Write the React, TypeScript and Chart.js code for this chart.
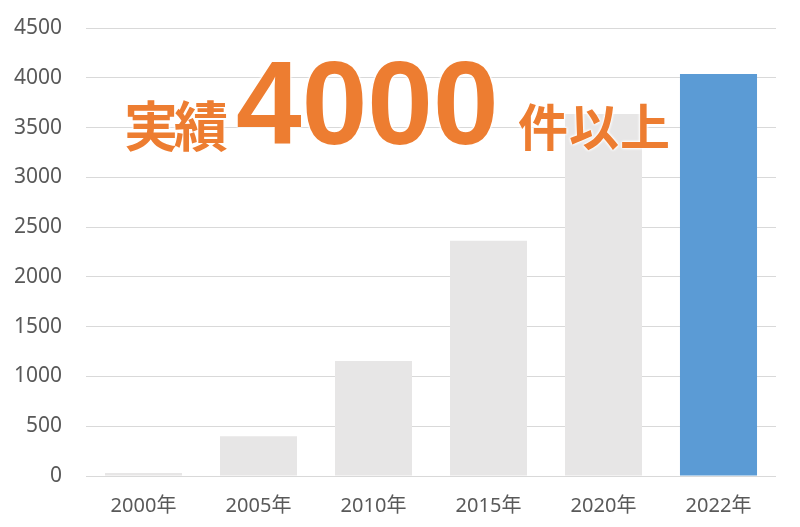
import { useEffect, useRef } from 'react';
import { Chart, registerables } from 'chart.js';

Chart.register(...registerables);

const years = ['2000年', '2005年', '2010年', '2015年', '2020年', '2022年'];
const counts = [30, 400, 1155, 2362, 3635, 4038];
const barColors = ['#E7E6E6', '#E7E6E6', '#E7E6E6', '#E7E6E6', '#E7E6E6', '#5B9BD5'];

const orange = '#ED7D31';
const halo = '0 0 3px #fff, 0 0 3px #fff, 0 0 3px #fff';

export default function App() {
  const canvas = useRef<HTMLCanvasElement | null>(null);
  const chartRef = useRef<Chart | null>(null);

  useEffect(() => {
    document.body.style.margin = '0';
    const node = canvas.current;
    if (!node) {
      return;
    }
    chartRef.current?.destroy();

    chartRef.current = new Chart(node, {
      type: 'bar',
      data: {
        labels: years,
        datasets: [
          {
            data: counts,
            backgroundColor: barColors,
            borderWidth: 0,
            barPercentage: 0.67,
            categoryPercentage: 1
          }
        ]
      },
      options: {
        responsive: false,
        animation: false,
        layout: { padding: { top: 28, right: 24, bottom: 0, left: 0 } },
        plugins: {
          legend: { display: false },
          tooltip: { enabled: false }
        },
        scales: {
          x: {
            grid: { display: false, drawTicks: false },
            border: { display: false },
            ticks: {
              color: '#595959',
              padding: 18,
              font: { family: "'Noto Sans', 'Noto Sans CJK JP', sans-serif", size: 20 }
            },
            afterFit: (scale: any) => {
              scale.height = 51;
            }
          },
          y: {
            min: 0,
            max: 4500,
            grid: { color: '#D9D9D9', lineWidth: 1, drawTicks: false },
            border: { display: false },
            ticks: {
              stepSize: 500,
              color: '#595959',
              padding: 24,
              font: { family: "'Noto Sans', sans-serif", size: 21 },
              callback: (value: any) => String(value)
            },
            afterFit: (scale: any) => {
              scale.width = 86;
              scale.paddingTop = 0;
              scale.paddingBottom = 0;
            }
          }
        }
      }
    });

    return () => {
      chartRef.current?.destroy();
      chartRef.current = null;
    };
  }, []);

  const cjk = "'Noto Sans CJK JP', sans-serif";

  return (
    <div style={{ position: 'relative', width: 800, height: 527, background: '#fff' }}>
      <canvas ref={canvas} width={800} height={527} aria-label="実績件数の推移" role="img" />
      <span
        style={{
          position: 'absolute',
          left: 124,
          top: 83,
          fontFamily: cjk,
          fontWeight: 700,
          fontSize: 54,
          lineHeight: 1.5,
          letterSpacing: -4,
          color: orange,
          textShadow: halo,
          whiteSpace: 'nowrap'
        }}
      >
        実績
      </span>
      <span
        style={{
          position: 'absolute',
          left: 236,
          top: 33,
          fontFamily: "'Liberation Sans', Arial, sans-serif",
          fontWeight: 700,
          fontSize: 118,
          lineHeight: 1.2,
          color: orange,
          textShadow: halo,
          whiteSpace: 'nowrap'
        }}
      >
        4000
      </span>
      <span
        style={{
          position: 'absolute',
          left: 518,
          top: 87,
          fontFamily: cjk,
          fontWeight: 700,
          fontSize: 50,
          lineHeight: 1.5,
          letterSpacing: 1,
          color: orange,
          textShadow: halo,
          whiteSpace: 'nowrap'
        }}
      >
        件以上
      </span>
    </div>
  );
}
